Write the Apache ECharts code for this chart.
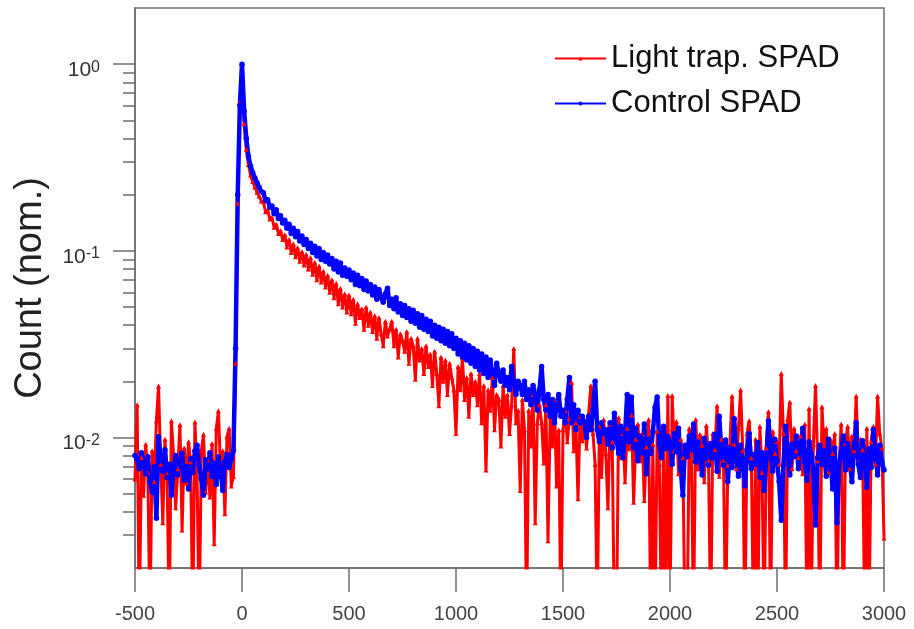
<!DOCTYPE html>
<html>
<head>
<meta charset="utf-8">
<script src="https://cdn.jsdelivr.net/npm/echarts@6/dist/echarts.min.js"></script>
<style>
html,body{margin:0;padding:0;background:#fff;}
#chart{width:914px;height:629px;}
</style>
</head>
<body>
<div id="chart"></div>
<script>
// Time grid (ps): -500 .. 3000, 10 ps bins
const timeStart = -500;
const timeStep = 10;

const seriesNames = ['Light trap. SPAD', 'Control SPAD'];

// Light trap. SPAD (normalised counts); 0.001 marks empty bins (below axis)
const lightTrap = [
  0.006, 0.015, 0.001, 0.0078, 0.0049, 0.0092, 0.0065, 0.001, 0.0085, 0.0058,
  0.0123, 0.0189, 0.0072, 0.0035, 0.0098, 0.0064, 0.001, 0.0123, 0.0081, 0.0042,
  0.0068, 0.0117, 0.0032, 0.0088, 0.0057, 0.0095, 0.0074, 0.001, 0.0121, 0.0062,
  0.001, 0.0085, 0.0104, 0.0051, 0.0076, 0.0048, 0.0093, 0.0027, 0.0112, 0.0139,
  0.0066, 0.0085, 0.0039, 0.0101, 0.0112, 0.0055, 0.0062, 0.025, 0.18, 0.62,
  1.0, 0.48, 0.35, 0.29, 0.255, 0.235, 0.22, 0.206, 0.197, 0.185,
  0.183, 0.162, 0.165, 0.148, 0.151, 0.134, 0.139, 0.124, 0.128, 0.115,
  0.122, 0.105, 0.115, 0.098, 0.109, 0.093, 0.104, 0.088, 0.099, 0.084,
  0.096, 0.08, 0.092, 0.075, 0.087, 0.07, 0.083, 0.068, 0.078, 0.064,
  0.074, 0.06, 0.07, 0.056, 0.067, 0.052, 0.063, 0.05, 0.059, 0.047,
  0.058, 0.046, 0.055, 0.041, 0.052, 0.044, 0.049, 0.038, 0.05, 0.04,
  0.047, 0.037, 0.045, 0.034, 0.044, 0.036, 0.031, 0.042, 0.035, 0.038,
  0.042, 0.031, 0.038, 0.027, 0.036, 0.033, 0.029, 0.037, 0.025, 0.034,
  0.031, 0.0205, 0.034, 0.026, 0.03, 0.022, 0.031, 0.024, 0.028, 0.019,
  0.029, 0.022, 0.0148, 0.027, 0.02, 0.026, 0.017, 0.025, 0.021, 0.018,
  0.0105, 0.024, 0.018, 0.027, 0.016, 0.021, 0.013, 0.022, 0.017, 0.02,
  0.015, 0.022, 0.012, 0.019, 0.0067, 0.018, 0.014, 0.021, 0.011, 0.017,
  0.016, 0.009, 0.019, 0.013, 0.017, 0.0105, 0.015, 0.03, 0.012, 0.014,
  0.0052, 0.016, 0.011, 0.001, 0.014, 0.009, 0.017, 0.0035, 0.012, 0.015,
  0.012, 0.0073, 0.015, 0.0028, 0.013, 0.009, 0.016, 0.0055, 0.011, 0.001,
  0.011, 0.014, 0.0095, 0.0125, 0.0198, 0.0085, 0.012, 0.0047, 0.013, 0.0096,
  0.012, 0.0088, 0.0135, 0.019, 0.0105, 0.0072, 0.001, 0.0115, 0.0062, 0.0125,
  0.0082, 0.0042, 0.0118, 0.0095, 0.001, 0.001, 0.0128, 0.0078, 0.0105, 0.0058,
  0.0112, 0.0087, 0.0132, 0.0045, 0.0098, 0.0118, 0.0075, 0.0104, 0.0046, 0.0089,
  0.0125, 0.001, 0.0092, 0.001, 0.0108, 0.0072, 0.001, 0.0115, 0.001, 0.0168,
  0.001, 0.0168, 0.0085, 0.0122, 0.0064, 0.0098, 0.0078, 0.001, 0.001, 0.0112,
  0.0082, 0.001, 0.0125, 0.0068, 0.0104, 0.0091, 0.0058, 0.0116, 0.0075, 0.001,
  0.0105, 0.0086, 0.0148, 0.0062, 0.0098, 0.0075, 0.001, 0.0071, 0.0093, 0.0167,
  0.0092, 0.0068, 0.0112, 0.018, 0.0085, 0.001, 0.0105, 0.0123, 0.0078, 0.001,
  0.0098, 0.001, 0.0115, 0.0065, 0.001, 0.0088, 0.0138, 0.001, 0.0108, 0.0082,
  0.0095, 0.0072, 0.022, 0.0105, 0.001, 0.0125, 0.0155, 0.0068, 0.0112, 0.0085,
  0.0078, 0.0102, 0.0064, 0.0118, 0.001, 0.0143, 0.001, 0.0092, 0.019, 0.0075,
  0.001, 0.0146, 0.0088, 0.0112, 0.0065, 0.0098, 0.0082, 0.0105, 0.001, 0.0072,
  0.0118, 0.001, 0.0093, 0.0115, 0.0068, 0.0102, 0.0085, 0.0167, 0.0074, 0.0098,
  0.0086, 0.001, 0.0112, 0.001, 0.0095, 0.0115, 0.0072, 0.0167, 0.0105, 0.0088,
  0.0029
];

// Control SPAD (normalised counts)
const control = [
  0.0080, 0.0076, 0.0068, 0.0083, 0.0072, 0.0064, 0.0079, 0.0058, 0.0051, 0.0070,
  0.0037, 0.0101, 0.0075, 0.0066, 0.0086, 0.0061, 0.0072, 0.0049, 0.0068, 0.0080,
  0.0063, 0.0074, 0.0082, 0.0059, 0.0070, 0.0053, 0.0077, 0.0065, 0.0085, 0.0091,
  0.0071, 0.0060, 0.0049, 0.0076, 0.0068, 0.0083, 0.0062, 0.0073, 0.0056, 0.0079,
  0.0066, 0.0052, 0.0074, 0.0081, 0.0069, 0.0077, 0.0085, 0.03, 0.2, 0.6,
  1.0, 0.56, 0.40, 0.32, 0.285, 0.262, 0.246, 0.232, 0.219, 0.208,
  0.205, 0.186, 0.188, 0.171, 0.174, 0.158, 0.166, 0.149, 0.154, 0.141,
  0.146, 0.132, 0.139, 0.124, 0.132, 0.119, 0.127, 0.113, 0.12, 0.108,
  0.115, 0.103, 0.11, 0.098, 0.106, 0.094, 0.103, 0.09, 0.098, 0.088,
  0.095, 0.085, 0.091, 0.08, 0.088, 0.077, 0.086, 0.074, 0.081, 0.073,
  0.079, 0.07, 0.076, 0.066, 0.074, 0.065, 0.071, 0.062, 0.069, 0.061,
  0.066, 0.058, 0.064, 0.055, 0.062, 0.056, 0.053, 0.059, 0.063, 0.051,
  0.055, 0.049, 0.056, 0.047, 0.052, 0.045, 0.051, 0.044, 0.049, 0.042,
  0.048, 0.041, 0.046, 0.039, 0.045, 0.038, 0.043, 0.037, 0.042, 0.035,
  0.04, 0.034, 0.039, 0.033, 0.038, 0.032, 0.037, 0.031, 0.036, 0.03,
  0.034, 0.028, 0.033, 0.027, 0.032, 0.026, 0.031, 0.025, 0.03, 0.024,
  0.029, 0.023, 0.028, 0.022, 0.027, 0.021, 0.026, 0.022, 0.019, 0.025,
  0.022, 0.02, 0.023, 0.019, 0.021, 0.018, 0.024, 0.02, 0.017, 0.02,
  0.019, 0.017, 0.02, 0.016, 0.018, 0.015, 0.019, 0.017, 0.014, 0.018,
  0.024, 0.016, 0.014, 0.017, 0.013, 0.016, 0.012, 0.015, 0.017, 0.013,
  0.014, 0.012, 0.016, 0.021, 0.012, 0.015, 0.011, 0.014, 0.012, 0.013,
  0.012, 0.01, 0.013, 0.011, 0.014, 0.02, 0.011, 0.0095, 0.012, 0.0105,
  0.011, 0.0092, 0.012, 0.0088, 0.0135, 0.0098, 0.0082, 0.0115, 0.0078, 0.0105,
  0.017, 0.0095, 0.0165, 0.0088, 0.0112, 0.0075, 0.0102, 0.0083, 0.0118, 0.0064,
  0.0098, 0.0082, 0.0108, 0.0145, 0.0165, 0.0092, 0.0078, 0.0115, 0.0087, 0.0101,
  0.0093, 0.0072, 0.0105, 0.0084, 0.0112, 0.0068, 0.0049, 0.0091, 0.0079, 0.0102,
  0.0086, 0.0118, 0.0074, 0.0095, 0.0081, 0.0063, 0.0099, 0.0088, 0.0071, 0.0093,
  0.0078, 0.0104, 0.0066, 0.013, 0.0085, 0.0071, 0.0097, 0.0058, 0.0088, 0.0069,
  0.0126, 0.0079, 0.0062, 0.0091, 0.0074, 0.0055, 0.0086, 0.0105, 0.0068, 0.0081,
  0.0072, 0.0094, 0.0061, 0.0083, 0.0052, 0.0077, 0.0123, 0.0089, 0.0066, 0.0098,
  0.0075, 0.0058, 0.0036, 0.0071, 0.0115, 0.0084, 0.0063, 0.0092, 0.0079, 0.0102,
  0.0068, 0.0087, 0.0112, 0.0074, 0.0059, 0.0095, 0.0081, 0.0066, 0.0034, 0.0078,
  0.0091, 0.0072, 0.0085, 0.0062, 0.0098, 0.0076, 0.0053, 0.0088, 0.0035, 0.0071,
  0.0084, 0.0102, 0.0067, 0.0093, 0.0075, 0.0058, 0.0089, 0.012, 0.0072, 0.0061,
  0.0096, 0.0078, 0.0054, 0.0087, 0.0069, 0.011, 0.0082, 0.0063, 0.0091, 0.0074,
  0.0067
];

// Axis ticks
const xTicks = [-500, 0, 500, 1000, 1500, 2000, 2500, 3000];
const yMajorTicks = [0.01, 0.1, 1];
const yMinorTicks = [0.003, 0.004, 0.005, 0.006, 0.007, 0.008, 0.009,
  0.02, 0.03, 0.04, 0.05, 0.06, 0.07, 0.08, 0.09,
  0.2, 0.3, 0.4, 0.5, 0.6, 0.7, 0.8, 0.9];
const yMin = 0.002, yMax = 2;

const times = lightTrap.map((_, i) => timeStart + i * timeStep);
const redData = times.map((t, i) => [t, lightTrap[i]]);
const blueData = times.map((t, i) => [t, control[i]]);

const axisGray = '#6e6e6e';
const chart = echarts.init(document.getElementById('chart'), null, {renderer: 'canvas'});
chart.setOption({
  animation: false,
  backgroundColor: '#fff',
  grid: {left: 135, right: 30, top: 8, bottom: 61, show: true, borderColor: axisGray, borderWidth: 1.5, backgroundColor: 'transparent'},
  legend: {
    orient: 'vertical', left: 549, top: 38,
    itemWidth: 51, itemHeight: 5, itemGap: 14,
    textStyle: {fontFamily: 'Liberation Sans', fontSize: 31, color: '#111'},
    data: seriesNames
  },
  xAxis: {
    type: 'value', min: -500, max: 3000, interval: 500,
    axisLine: {onZero: false, lineStyle: {color: axisGray, width: 1.5}},
    axisTick: {length: 24, lineStyle: {color: axisGray, width: 1.5}, customValues: xTicks},
    axisLabel: {fontFamily: 'Liberation Sans', fontSize: 20, color: '#444', margin: 36, customValues: xTicks,
      formatter: function (v) { return String(v); }},
    splitLine: {show: false}
  },
  yAxis: [{
    type: 'log', logBase: 10, min: yMin, max: yMax,
    name: 'Count (nom.)', nameLocation: 'middle', nameGap: 85,
    nameTextStyle: {fontFamily: 'Liberation Sans', fontSize: 38, color: '#222'},
    axisLine: {show: true, onZero: false, lineStyle: {color: axisGray, width: 1.5}},
    axisTick: {show: true, length: 22, lineStyle: {color: axisGray, width: 1.5}, customValues: yMajorTicks},
    axisLabel: {
      customValues: yMajorTicks, margin: 35, padding: [12, 0, 0, 0],
      formatter: function (v) { return '{b|10}{s|' + Math.round(Math.log10(v)) + '}'; },
      rich: {
        b: {fontFamily: 'Liberation Sans', fontSize: 21, lineHeight: 22, color: '#333'},
        s: {fontFamily: 'Liberation Sans', fontSize: 16, lineHeight: 15, verticalAlign: 'top', color: '#333'}
      }
    },
    splitLine: {show: false}, minorTick: {show: false}
  }, {
    type: 'log', logBase: 10, min: yMin, max: yMax, position: 'left',
    axisLine: {show: false, onZero: false},
    axisTick: {show: true, length: 12, lineStyle: {color: axisGray, width: 1.5}, customValues: yMinorTicks},
    axisLabel: {show: false},
    splitLine: {show: false}
  }],
  series: [{
    name: seriesNames[0], type: 'line', yAxisIndex: 0, data: redData,
    symbol: 'triangle', symbolSize: 5, showAllSymbol: true, clip: true,
    lineStyle: {color: '#ff0000', width: 3},
    itemStyle: {color: '#ff0000'}
  }, {
    name: seriesNames[1], type: 'line', yAxisIndex: 0, data: blueData,
    symbol: 'circle', symbolSize: 5.5, showAllSymbol: true, clip: true,
    lineStyle: {color: '#0000ff', width: 4.5},
    itemStyle: {color: '#0000ff'}
  }]
});
</script>
</body>
</html>
